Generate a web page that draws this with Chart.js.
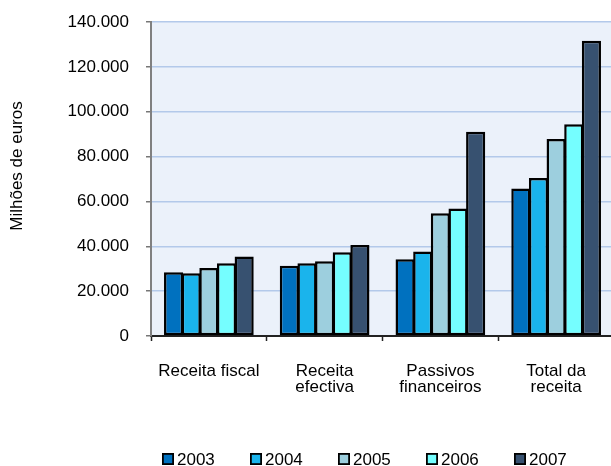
<!DOCTYPE html>
<html>
<head>
<meta charset="utf-8">
<script src="https://cdn.jsdelivr.net/npm/chart.js@4.4.1/dist/chart.umd.min.js"></script>
<style>
  html, body { margin: 0; padding: 0; background: #fff; overflow: hidden; }
  #wrap { width: 614px; height: 466px; }
</style>
</head>
<body>
<div id="wrap"><canvas id="c" width="614" height="466"></canvas></div>
<script>
// Receitas do Estado, milhões de euros
const categories = ['Receita fiscal', ['Receita', 'efectiva'], ['Passivos', 'financeiros'], ['Total da', 'receita']];
const years = ['2003', '2004', '2005', '2006', '2007'];
const y2003 = [28400, 31300, 34200, 65800];
const y2004 = [28000, 32400, 37700, 70400];
const y2005 = [30300, 33300, 54700, 87800];
const y2006 = [32400, 37300, 56900, 94400];
const y2007 = [35500, 40600, 91100, 131600];
const yTicks = [0, 20000, 40000, 60000, 80000, 100000, 120000, 140000];
const yTitle = 'Milhões de euros';

const colors = ['#0071BF', '#1AB4EC', '#9DCFDE', '#75FEFF', '#375170'];
const FONT = "'Liberation Sans', Arial, sans-serif";
const FSIZE = 17;

const fmt = v => String(v).replace(/\B(?=(\d{3})+(?!\d))/g, '.');

const series = [y2003, y2004, y2005, y2006, y2007];

// plot area fill
const plotBg = {
  id: 'plotBg',
  beforeDraw(chart) {
    const { ctx, chartArea: a } = chart;
    ctx.save();
    ctx.fillStyle = '#EBF1FA';
    ctx.fillRect(a.left, a.top, a.right - a.left, a.bottom - a.top);
    ctx.restore();
  }
};

// rotated axis title, placed a little above the axis middle
const sideTitle = {
  id: 'sideTitle',
  afterDraw(chart) {
    const { ctx } = chart;
    ctx.save();
    ctx.translate(17, 166);
    ctx.rotate(-Math.PI / 2);
    ctx.font = FSIZE + 'px ' + FONT;
    ctx.fillStyle = '#000';
    ctx.textAlign = 'center';
    ctx.textBaseline = 'middle';
    ctx.fillText(yTitle, 0, 0);
    ctx.restore();
  }
};

// legend row along the bottom edge
const bottomLegend = {
  id: 'bottomLegend',
  afterDraw(chart) {
    const { ctx } = chart;
    const startX = 162, stride = 88, boxY = 453, box = 12;
    ctx.save();
    ctx.font = FSIZE + 'px ' + FONT;
    ctx.textBaseline = 'middle';
    ctx.textAlign = 'left';
    chart.data.datasets.forEach((ds, i) => {
      const x = startX + i * stride;
      ctx.fillStyle = ds.backgroundColor;
      ctx.fillRect(x, boxY, box, box);
      ctx.lineWidth = 1.8;
      ctx.strokeStyle = '#000';
      ctx.strokeRect(x + 0.9, boxY + 0.9, box - 1.8, box - 1.8);
      ctx.fillStyle = '#000';
      ctx.fillText(ds.label, x + box + 3, boxY + box / 2 + 1);
    });
    ctx.restore();
  }
};

new Chart(document.getElementById('c'), {
  type: 'bar',
  data: {
    labels: categories,
    datasets: years.map((yr, i) => ({
      label: yr,
      data: series[i],
      backgroundColor: colors[i],
      borderColor: '#000',
      borderWidth: 2.5,
      borderSkipped: false,
      categoryPercentage: 0.762,
      barPercentage: 1.085
    }))
  },
  options: {
    responsive: false,
    animation: false,
    devicePixelRatio: 1,
    layout: { padding: { top: 22, right: 0, bottom: 0, left: 0 } },
    plugins: {
      legend: { display: false },
      tooltip: { enabled: false }
    },
    scales: {
      x: {
        afterFit(scale) { scale.height = 130; scale.paddingLeft = 0; scale.paddingRight = 0; },
        grid: {
          offset: true,
          drawOnChartArea: false,
          drawTicks: true,
          tickLength: 5,
          tickColor: '#222',
          tickWidth: 1.5
        },
        border: { display: true, color: '#222', width: 2 },
        ticks: {
          color: '#000',
          padding: 22,
          maxRotation: 0,
          autoSkip: false,
          font: { family: FONT, size: FSIZE, lineHeight: 0.95 }
        }
      },
      y: {
        min: 0,
        max: 140000,
        afterFit(scale) { scale.width = 151; scale.paddingTop = 0; scale.paddingBottom = 0; },
        afterBuildTicks(scale) { scale.ticks = yTicks.map(v => ({ value: v })); },
        grid: {
          color: '#B3C9EA',
          lineWidth: 1.5,
          drawTicks: true,
          tickLength: 5,
          tickColor: '#777',
          tickWidth: 1.5
        },
        border: { display: true, color: '#808080', width: 2 },
        ticks: {
          color: '#000',
          padding: 17,
          callback: v => fmt(v),
          font: { family: FONT, size: FSIZE }
        }
      }
    }
  },
  plugins: [plotBg, sideTitle, bottomLegend]
});
</script>
</body>
</html>
